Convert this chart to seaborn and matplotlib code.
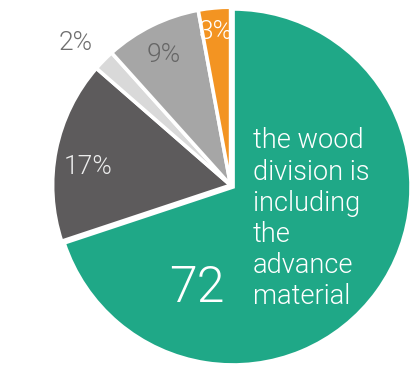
import matplotlib
matplotlib.use("Agg")
import matplotlib.pyplot as plt
import seaborn as sns

# Share of each division (values as printed on the chart)
segments = ["wood", "dark", "light", "mid", "orange"]
values = [72, 17, 2, 9, 3]
colors = ["#1fa887", "#5d5b5c", "#d9d9d9", "#a6a6a6", "#f39422"]
label_colors = ["#ffffff", "#ececec", "#6f6f6f", "#666666", "#ffffff"]
note = "the wood\ndivision is\nincluding\nthe\nadvance\nmaterial"

sns.set_theme(style="white")
plt.rcParams["font.family"] = ["Roboto", "DejaVu Sans"]

W, H = 413, 366
fig = plt.figure(figsize=(W / 100, H / 100), dpi=100)
ax = fig.add_axes([0, 0, 1, 1])

R = 178.0              # pie radius in pixels
cx, cy = 230.6, 185.2  # pie centre in pixels (from top-left)


def px(x, y):
    """Pixel position (from top-left) to data coordinates."""
    return (x - cx) / R, (cy - y) / R


explode = [0.017, 0, 0, 0, 0]
wedges, _ = ax.pie(
    values,
    colors=sns.color_palette(colors),
    startangle=90,
    counterclock=False,
    explode=explode,
    radius=1.0,
    wedgeprops=dict(edgecolor="white", linewidth=2.6),
)

ax.set_xlim(-cx / R, (W - cx) / R)
ax.set_ylim(-(H - cy) / R, cy / R)
ax.set_aspect("auto")
ax.axis("off")

# Percentage labels
label_pos = [None, (88, 167), (76, 43), (164, 55), (216, 32)]
for v, pos, c in zip(values, label_pos, label_colors):
    if pos is None:
        continue
    x, y = px(*pos)
    ax.text(x, y, f"{v}%", ha="center", va="center", fontsize=19,
            color=c, fontweight=300)

# Main value and description on the large wedge
x, y = px(197, 288)
ax.text(x, y, f"{values[0]}", ha="center", va="center", fontsize=36,
        color="white", fontweight=300)
x, y = px(253, 219)
ax.text(x, y, note, ha="left", va="center", fontsize=19.5, color="white",
        fontweight=300, linespacing=1.2)

fig.savefig("out.png", dpi=100)
